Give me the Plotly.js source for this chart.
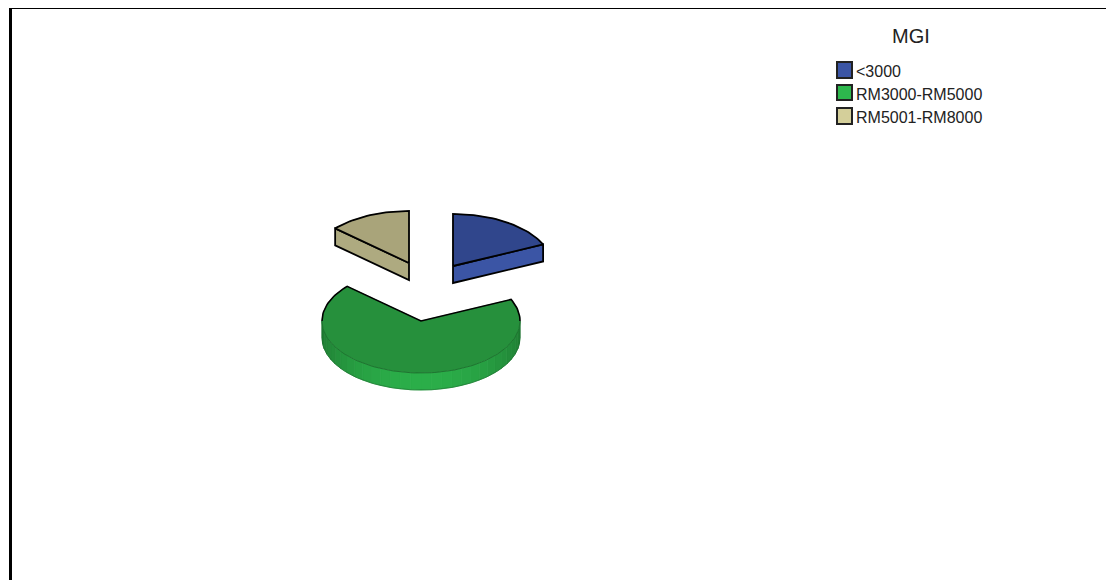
<!DOCTYPE html>
<html>
<head>
<meta charset="utf-8">
<script src="https://cdn.plot.ly/plotly-3.0.1.min.js"></script>
<style>html,body{margin:0;padding:0;background:#fff}#chart{width:1106px;height:580px}</style>
</head>
<body>
<div id="chart"></div>
<script>
// MGI groups and their share of respondents (percent)
const categories = ['<3000', 'RM3000-RM5000', 'RM5001-RM8000'];
const shares = [18.2, 68.4, 13.4];

// Fill colours per group: top face, cut/side face, legend key
const topColors = ['#30468c', '#26903c', '#a9a47a'];
const sideColors = ['#3b55a5', '#2bae49', '#aeaa80'];
const keyColors = ['#3b55a5', '#2db84d', '#d4cf9a'];

// Centre of each exploded slice on the page
const centres = [[453, 266], [421, 321], [409, 263]];
const RX = 99, RY = 52, DEPTH = 17;

const rad = d => d * Math.PI / 180;
// Point on the tilted disc; angle runs clockwise from 12 o'clock
const rim = (c, a, drop = 0) => [c[0] + RX * Math.sin(rad(a)), c[1] - RY * Math.cos(rad(a)) + drop];
const arc = (c, a0, a1, drop = 0) => {
  const n = Math.max(2, Math.ceil(Math.abs(a1 - a0) / 2));
  return Array.from({length: n + 1}, (_, i) => rim(c, a0 + (a1 - a0) * i / n, drop));
};
const poly = (pts, fill, line, width, closed = true) => ({
  type: 'scatter', mode: 'lines', hoverinfo: 'skip', showlegend: false,
  x: pts.map(p => p[0]), y: pts.map(p => p[1]),
  fill: closed ? 'toself' : 'none', fillcolor: fill,
  line: {color: line, width: width}
});
const stroke = (pts, color, width) => poly(pts, 'rgba(0,0,0,0)', color, width, false);
const mix = (a, b, t) => {
  const h = s => [1, 3, 5].map(i => parseInt(s.substr(i, 2), 16));
  const [p, q] = [h(a), h(b)];
  return 'rgb(' + p.map((v, i) => Math.round(v + (q[i] - v) * t)).join(',') + ')';
};

const total = shares.reduce((s, v) => s + v, 0);
const traces = [];
let start = 0;
shares.forEach((share, i) => {
  const a0 = start, a1 = start + share / total * 360;
  start = a1;
  const c = centres[i];
  const drop = p => [p[0], p[1] + DEPTH];

  // Cut faces that turn towards the viewer
  const faces = [];
  if (a1 < 180) faces.push(a1);
  if (a0 > 180) faces.push(a0);
  faces.forEach(a => {
    const e = rim(c, a);
    traces.push(poly([c, e, drop(e), drop(c), c], sideColors[i], '#000', 1.8));
  });

  // Curved wall, lit from the front
  const from = Math.max(a0, 90), to = Math.min(a1, 270);
  if (to > from) {
    for (let a = from; a < to; a += 6) {
      const b = Math.min(a + 6, to);
      const lit = Math.pow(Math.max(0, Math.sin(rad((a + b) / 2 - 90))), 1.5);
      const col = mix('#1f7d33', sideColors[i], lit);
      const wall = [rim(c, a), rim(c, b), rim(c, b, DEPTH), rim(c, a, DEPTH)];
      traces.push(poly([...wall, wall[0]], col, col, 0.8));
    }
    traces.push(stroke(arc(c, from, to, DEPTH), '#1a6b2b', 0.6));
    traces.push(stroke([rim(c, from), rim(c, from, DEPTH)], '#1a6b2b', 0.8));
    traces.push(stroke([rim(c, to), rim(c, to, DEPTH)], '#1a6b2b', 0.8));
  }

  // Top face and its outline
  const edge = arc(c, a0, a1);
  traces.push(poly([c, ...edge, c], topColors[i], topColors[i], 0.5));
  if (a1 - a0 > 180) {
    traces.push(stroke(arc(c, from, to), '#1a6b2b', 0.8));
    traces.push(stroke([...arc(c, 270, a1), c, ...arc(c, a0, 90)], '#000', 1.6));
  } else {
    traces.push(stroke([c, ...edge, c], '#000', 1.8));
  }
});

// Legend keys and the page frame
const KEY_X = [837, 852], KEY_Y = [[62, 78], [85, 100], [108, 124]];
const LABEL_X = 854, LABEL_Y = [71, 94, 117];
const shapes = categories.map((_, i) => ({
  type: 'rect', xref: 'x', yref: 'y',
  x0: KEY_X[0], x1: KEY_X[1], y0: KEY_Y[i][0], y1: KEY_Y[i][1],
  fillcolor: keyColors[i], line: {color: '#222', width: 2}
}));
shapes.push(
  {type: 'line', xref: 'x', yref: 'y', x0: 9, x1: 1106, y0: 8.5, y1: 8.5, line: {color: '#000', width: 1}},
  {type: 'rect', xref: 'x', yref: 'y', x0: 9, x1: 12, y0: 8, y1: 580, fillcolor: '#000', line: {width: 0}}
);

const font = {family: '"Liberation Sans", Arial, sans-serif', color: '#222'};
const annotations = categories.map((label, i) => ({
  xref: 'x', yref: 'y', x: LABEL_X, y: LABEL_Y[i],
  text: label.replace('<', '&lt;'), showarrow: false, xanchor: 'left', yanchor: 'middle',
  font: {...font, size: 16}
}));
annotations.push({
  xref: 'x', yref: 'y', x: 911, y: 36, text: 'MGI', showarrow: false,
  xanchor: 'center', yanchor: 'middle', font: {...font, size: 20}
});

Plotly.newPlot('chart', traces, {
  width: 1106, height: 580,
  margin: {l: 0, r: 0, t: 0, b: 0},
  paper_bgcolor: '#fff', plot_bgcolor: '#fff',
  showlegend: false,
  xaxis: {visible: false, range: [0, 1106], fixedrange: true},
  yaxis: {visible: false, range: [580, 0], fixedrange: true},
  shapes, annotations
}, {displayModeBar: false, staticPlot: true});
</script>
</body>
</html>
